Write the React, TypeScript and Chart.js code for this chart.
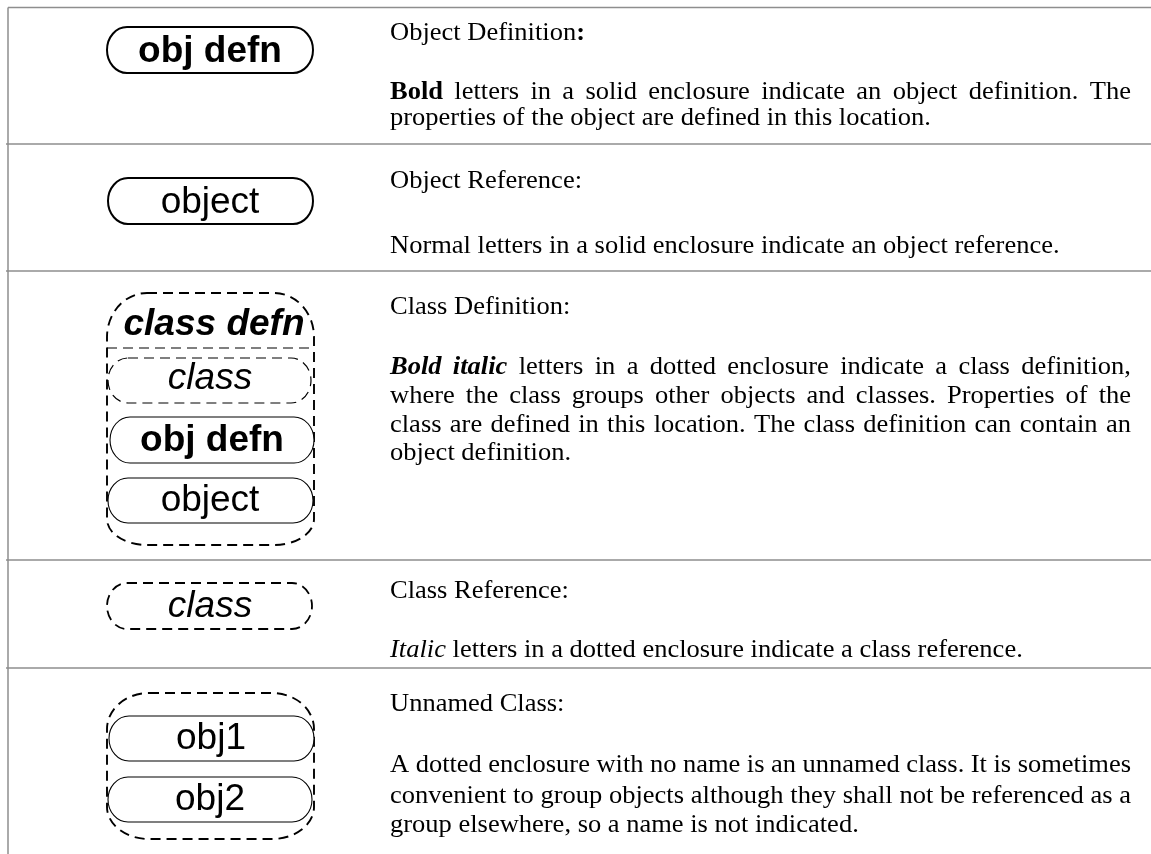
import React, { useEffect, useRef } from "react";
import { Chart, registerables } from "chart.js";

Chart.register(...registerables);

// ---------- data ----------
const rowTitles = ["Object Definition", "Object Reference", "Class Definition", "Class Reference", "Unnamed Class"];
const titleColonBold = [true, false, false, false, false];

type Seg = { t: string; b?: boolean; i?: boolean };
const row1Lines: Seg[][] = [
  [{ t: "Bold", b: true }, { t: " letters in a solid enclosure indicate an object definition. The" }],
  [{ t: "properties of the object are defined in this location." }],
];
const row2Lines: Seg[][] = [[{ t: "Normal letters in a solid enclosure indicate an object reference." }]];
const row3Lines: Seg[][] = [
  [{ t: "Bold italic", b: true, i: true }, { t: " letters in a dotted enclosure indicate a class definition," }],
  [{ t: "where the class groups other objects and classes. Properties of the" }],
  [{ t: "class are defined in this location. The class definition can contain an" }],
  [{ t: "object definition." }],
];
const row4Lines: Seg[][] = [[{ t: "Italic", i: true }, { t: " letters in a dotted enclosure indicate a class reference." }]];
const row5Lines: Seg[][] = [
  [{ t: "A dotted enclosure with no name is an unnamed class. It is sometimes" }],
  [{ t: "convenient to group objects although they shall not be referenced as a" }],
  [{ t: "group elsewhere, so a name is not indicated." }],
];
const rowParagraphs = [row1Lines, row2Lines, row3Lines, row4Lines, row5Lines];

const shapeLabels = ["obj defn", "object", "class defn", "class", "obj defn", "object", "class", "obj1", "obj2"];

// ---------- layout (positions / styles) ----------
const W = 1151;
const H = 854;
const TEXT_X = 390;
const TEXT_W = 741;
const FS = 26.5;
const SY = 0.95;
const rowLines = [7.5, 144, 271, 560, 668];
const headingBase = [40, 188, 314, 598, 711];
const paraBase = [[99, 125], [253], [374, 403, 432, 460], [657], [772, 803, 832]];

type Box = { x1: number; y1: number; x2: number; y2: number };
const labelLayout: { box: Box | null; cx: number; base: number; font: string; border: "solid" | "dashed" | "none"; lw: number }[] = [
  { box: { x1: 107, y1: 27, x2: 313, y2: 73 }, cx: 210, base: 62, font: "bold", border: "solid", lw: 2 },
  { box: { x1: 108, y1: 178, x2: 313, y2: 224 }, cx: 210, base: 213, font: "normal", border: "solid", lw: 2 },
  { box: null, cx: 214, base: 335, font: "italic bold", border: "none", lw: 0 },
  { box: { x1: 108, y1: 358, x2: 311, y2: 403 }, cx: 210, base: 389, font: "italic", border: "dashed", lw: 1.2 },
  { box: { x1: 110, y1: 417, x2: 314, y2: 463 }, cx: 212, base: 451, font: "bold", border: "solid", lw: 1.1 },
  { box: { x1: 108, y1: 478, x2: 313, y2: 523 }, cx: 210, base: 511, font: "normal", border: "solid", lw: 1.1 },
  { box: { x1: 107, y1: 583, x2: 312, y2: 629 }, cx: 210, base: 617, font: "italic", border: "dashed", lw: 1.8 },
  { box: { x1: 109, y1: 716, x2: 314, y2: 761 }, cx: 211, base: 749, font: "normal", border: "solid", lw: 1.1 },
  { box: { x1: 108, y1: 777, x2: 312, y2: 822 }, cx: 210, base: 810, font: "normal", border: "solid", lw: 1.1 },
];
const enclosures = [
  { x1: 107, y1: 293, x2: 314, y2: 545, rxT: 40, ryT: 44, rxB: 40, ryB: 26 },
  { x1: 107, y1: 693, x2: 314, y2: 839, rxT: 42, ryT: 36, rxB: 42, ryB: 32 },
];
const separators = [{ x1: 107, x2: 314, y: 348 }];

const DASH = [10, 6];

function stadium(ctx: CanvasRenderingContext2D, x1: number, y1: number, x2: number, y2: number, rx: number) {
  const ry = (y2 - y1) / 2;
  ctx.beginPath();
  ctx.moveTo(x1 + rx, y1);
  ctx.lineTo(x2 - rx, y1);
  ctx.ellipse(x2 - rx, y1 + ry, rx, ry, 0, -Math.PI / 2, Math.PI / 2);
  ctx.lineTo(x1 + rx, y2);
  ctx.ellipse(x1 + rx, y1 + ry, rx, ry, 0, Math.PI / 2, (3 * Math.PI) / 2);
  ctx.closePath();
}

function rounded(ctx: CanvasRenderingContext2D, x1: number, y1: number, x2: number, y2: number, rxT: number, ryT: number, rxB: number, ryB: number) {
  ctx.beginPath();
  ctx.moveTo(x1 + rxT, y1);
  ctx.lineTo(x2 - rxT, y1);
  ctx.ellipse(x2 - rxT, y1 + ryT, rxT, ryT, 0, -Math.PI / 2, 0);
  ctx.lineTo(x2, y2 - ryB);
  ctx.ellipse(x2 - rxB, y2 - ryB, rxB, ryB, 0, 0, Math.PI / 2);
  ctx.lineTo(x1 + rxB, y2);
  ctx.ellipse(x1 + rxB, y2 - ryB, rxB, ryB, 0, Math.PI / 2, Math.PI);
  ctx.lineTo(x1, y1 + ryT);
  ctx.ellipse(x1 + rxT, y1 + ryT, rxT, ryT, 0, Math.PI, (3 * Math.PI) / 2);
  ctx.closePath();
}

const diagramPlugin = {
  id: "diagram",
  afterDraw(chart: any) {
    const ctx: CanvasRenderingContext2D = chart.ctx;
    const xs = chart.scales.x;
    const ys = chart.scales.y;
    const px = (v: number) => xs.getPixelForValue(v);
    const py = (v: number) => ys.getPixelForValue(v);
    ctx.save();
    // table grid
    ctx.strokeStyle = "#8e8e8e";
    ctx.lineWidth = 1.5;
    ctx.setLineDash([]);
    ctx.beginPath();
    ctx.moveTo(px(8), py(rowLines[0]));
    ctx.lineTo(px(W), py(rowLines[0]));
    ctx.moveTo(px(8), py(rowLines[0]));
    ctx.lineTo(px(8), py(H));
    for (let i = 1; i < rowLines.length; i++) {
      ctx.moveTo(px(6), py(rowLines[i]));
      ctx.lineTo(px(W), py(rowLines[i]));
    }
    ctx.stroke();

    // enclosures
    ctx.strokeStyle = "#000";
    ctx.lineWidth = 1.9;
    ctx.setLineDash(DASH);
    enclosures.forEach((e) => {
      rounded(ctx, px(e.x1), py(e.y1), px(e.x2), py(e.y2), e.rxT, e.ryT, e.rxB, e.ryB);
      ctx.stroke();
    });
    ctx.lineWidth = 1.2;
    separators.forEach((s) => {
      ctx.beginPath();
      ctx.moveTo(px(s.x1), py(s.y));
      ctx.lineTo(px(s.x2), py(s.y));
      ctx.stroke();
    });

    // labelled shapes
    shapeLabels.forEach((label, i) => {
      const L = labelLayout[i];
      if (L.box && L.border !== "none") {
        ctx.fillStyle = "#fff";
        ctx.setLineDash(L.border === "dashed" ? DASH : []);
        ctx.lineWidth = L.lw;
        stadium(ctx, px(L.box.x1), py(L.box.y1), px(L.box.x2), py(L.box.y2), 20);
        if (L.border === "solid") ctx.fill();
        ctx.stroke();
      }
      ctx.setLineDash([]);
      ctx.fillStyle = "#000";
      ctx.font = `${L.font} 37px "Liberation Sans", Arial, sans-serif`;
      ctx.textAlign = "center";
      ctx.textBaseline = "alphabetic";
      ctx.fillText(label, px(L.cx), py(L.base));
    });
    ctx.restore();
  },
};

const OFF = FS * 0.891 + (FS - FS * 1.107) / 2;

const baseTextStyle: React.CSSProperties = {
  position: "absolute",
  left: TEXT_X,
  fontFamily: '"Liberation Serif", "Times New Roman", serif',
  fontSize: FS,
  lineHeight: `${FS}px`,
  whiteSpace: "nowrap",
  color: "#000",
  transform: `scaleY(${SY})`,
  transformOrigin: `0 ${OFF}px`,
};

function Line({ segs, justify, base }: { segs: Seg[]; justify: boolean; base: number }) {
  const style: React.CSSProperties = { ...baseTextStyle, top: base - OFF, width: TEXT_W };
  if (!justify) {
    return (
      <div style={style}>
        {segs.map((s, k) => (
          <span key={k} style={{ fontWeight: s.b ? "bold" : "normal", fontStyle: s.i ? "italic" : "normal" }}>
            {s.t}
          </span>
        ))}
      </div>
    );
  }
  const words: { w: string; b?: boolean; i?: boolean }[] = [];
  segs.forEach((s) => s.t.split(" ").filter((w) => w.length > 0).forEach((w) => words.push({ w, b: s.b, i: s.i })));
  return (
    <div style={{ ...style, display: "flex", justifyContent: "space-between" }}>
      {words.map((w, k) => (
        <span key={k} style={{ fontWeight: w.b ? "bold" : "normal", fontStyle: w.i ? "italic" : "normal" }}>
          {w.w}
        </span>
      ))}
    </div>
  );
}

export default function App() {
  const canvasRef = useRef<HTMLCanvasElement | null>(null);
  useEffect(() => {
    document.body.style.margin = "0";
    const canvas = canvasRef.current;
    if (!canvas) return;
    const chart = new Chart(canvas, {
      type: "scatter",
      data: { datasets: [{ data: [], showLine: false }] },
      options: {
        responsive: false,
        animation: false,
        events: [],
        layout: { padding: 0 },
        plugins: { legend: { display: false }, tooltip: { enabled: false } },
        scales: {
          x: { type: "linear", min: 0, max: W, display: false },
          y: { type: "linear", min: 0, max: H, reverse: true, display: false },
        },
      },
      plugins: [diagramPlugin],
    });
    return () => chart.destroy();
  }, []);

  return (
    <div style={{ position: "absolute", left: 0, top: 0, width: W, height: H, background: "#fff", overflow: "hidden" }}>
      <canvas ref={canvasRef} width={W} height={H} style={{ position: "absolute", left: 0, top: 0 }} />
      {rowTitles.map((t, r) => (
        <div key={"h" + r} style={{ ...baseTextStyle, top: headingBase[r] - OFF }}>
          {t}
          <span style={{ fontWeight: titleColonBold[r] ? "bold" : "normal" }}>:</span>
        </div>
      ))}
      {rowParagraphs.map((lines, r) =>
        lines.map((segs, k) => (
          <Line key={r + "-" + k} segs={segs} justify={k < lines.length - 1} base={paraBase[r][k]} />
        ))
      )}
    </div>
  );
}
